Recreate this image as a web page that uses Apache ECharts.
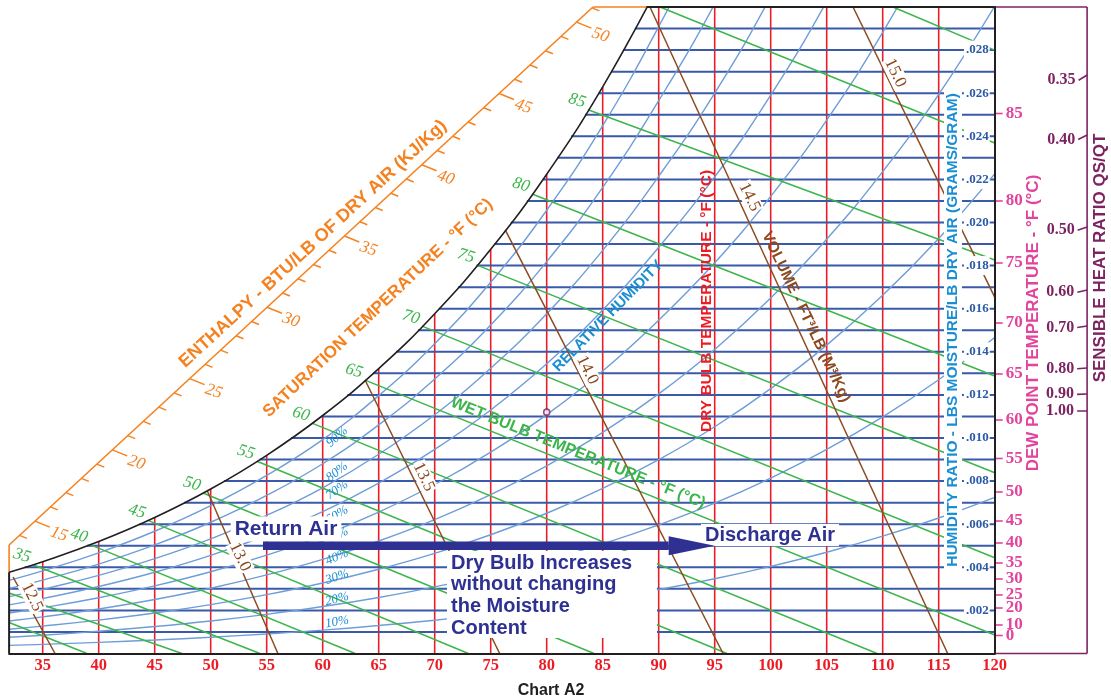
<!DOCTYPE html>
<html>
<head>
<meta charset="utf-8">
<title>Psychrometric Chart A2</title>
<script src="https://cdn.jsdelivr.net/npm/echarts@6.0.0/dist/echarts.min.js"></script>
<style>
html, body { margin: 0; padding: 0; background: #ffffff; }
#chart { width: 1111px; height: 700px; }
</style>
</head>
<body>
<div id="chart"></div>
<script>
// ---------------- chart values ----------------
// dry bulb (°F) stations used by the saturation and relative humidity curves
const dryBulbSteps = [32, 35, 40, 45, 50, 55, 60, 65, 70, 75, 80, 85, 90, 95, 100, 105, 110, 115, 120];
const dryBulbTicks = [35, 40, 45, 50, 55, 60, 65, 70, 75, 80, 85, 90, 95, 100, 105, 110, 115, 120];
const dryBulbLines = [35, 40, 45, 50, 55, 60, 65, 70, 75, 80, 85, 90, 95, 100, 105, 110, 115];

// humidity ratio (lb/lb) on each curve at the dry bulb stations
const satHumidity = [0.003775, 0.004261, 0.005195, 0.006309, 0.007631, 0.009197, 0.011044, 0.013219, 0.015768, 0.018755, 0.022239, 0.026297, 0.031022];
const rh90 = [0.003395, 0.003832, 0.004672, 0.005672, 0.006859, 0.008265, 0.009922, 0.011965, 0.014377, 0.017224, 0.020569, 0.024492, 0.029087, 0.034211];
const rh80 = [0.003016, 0.003404, 0.004149, 0.005037, 0.006090, 0.007336, 0.008804, 0.010607, 0.012736, 0.015242, 0.018183, 0.021627, 0.025653, 0.030147, 0.035383];
const rh70 = [0.002638, 0.002976, 0.003628, 0.004403, 0.005322, 0.006409, 0.007690, 0.009247, 0.011082, 0.013239, 0.015762, 0.018709, 0.022144, 0.026000, 0.030486, 0.035651];
const rh60 = [0.002259, 0.002549, 0.003107, 0.003770, 0.004556, 0.005486, 0.006580, 0.007907, 0.009469, 0.011302, 0.013445, 0.015943, 0.018851, 0.022114, 0.025905, 0.030259, 0.035278];
const rh50 = [0.001882, 0.002123, 0.002587, 0.003138, 0.003792, 0.004565, 0.005473, 0.006564, 0.007842, 0.009341, 0.011086, 0.013112, 0.015467, 0.018129, 0.021215, 0.024753, 0.028821, 0.033489];
const rh40 = [0.001505, 0.001697, 0.002068, 0.002508, 0.003030, 0.003647, 0.004371, 0.005221, 0.006213, 0.007369, 0.008709, 0.010258, 0.012048, 0.014111, 0.016497, 0.019226, 0.022358, 0.025941, 0.030036];
const rh30 = [0.001128, 0.001272, 0.001550, 0.001879, 0.002270, 0.002731, 0.003273, 0.003908, 0.004648, 0.005510, 0.006509, 0.007663, 0.008993, 0.010523, 0.012291, 0.014309, 0.016619, 0.019255, 0.022258];
const rh20 = [0.000751, 0.000848, 0.001032, 0.001252, 0.001511, 0.001818, 0.002178, 0.002600, 0.003091, 0.003663, 0.004324, 0.005087, 0.005966, 0.006976, 0.008140, 0.009467, 0.010982, 0.012705, 0.014664];
const rh10 = [0.000375, 0.000424, 0.000516, 0.000625, 0.000755, 0.000908, 0.001087, 0.001297, 0.001542, 0.001826, 0.002155, 0.002533, 0.002969, 0.003469, 0.004044, 0.004698, 0.005443, 0.006289, 0.007247];
const rhNames = ['90%', '80%', '70%', '60%', '50%', '40%', '30%', '20%', '10%'];

// constant humidity ratio lines and the dry bulb where each leaves the saturation curve
const humidityLines = [0.001, 0.002, 0.003, 0.004, 0.005, 0.006, 0.007, 0.008, 0.009, 0.010, 0.011, 0.012, 0.013, 0.014, 0.015, 0.016, 0.017, 0.018, 0.019, 0.020, 0.021, 0.022, 0.023, 0.024, 0.025, 0.026, 0.027, 0.028, 0.029];
const humidityLineFrom = [32, 32, 32, 33.39, 38.96, 43.62, 47.62, 51.18, 54.37, 57.18, 59.88, 62.20, 64.50, 66.54, 68.50, 70.39, 72.07, 73.74, 75.35, 76.79, 78.23, 79.66, 80.94, 82.18, 83.41, 84.64, 85.75, 86.81, 87.87];
const humidityTicks = [0.002, 0.004, 0.006, 0.008, 0.010, 0.012, 0.014, 0.016, 0.018, 0.020, 0.022, 0.024, 0.026, 0.028];

// wet bulb lines: [dry bulb, humidity ratio] at both ends
const wetBulbNames = ['25', '30', '35', '40', '45', '50', '55', '60', '65', '70', '75', '80', '85', '90', '95'];
const wetBulbFrom = [[32, 0.00144], [32, 0.00281], [34.13, 0.00412], [39.22, 0.00505], [44.40, 0.006175], [49.31, 0.007448], [54.13, 0.008924], [59.04, 0.010689], [63.78, 0.012687], [68.87, 0.01519], [73.78, 0.018024], [78.69, 0.021323], [83.69, 0.025229], [90.12, 0.030], [110.92, 0.030]];
const wetBulbTo = [[38.96, 0], [47.44, 0], [54.40, 0], [62.9, 0], [73.0, 0], [84.23, 0], [96.1, 0], [109.5, 0], [120, 0.00086], [120, 0.00444], [120, 0.00839], [120, 0.01288], [120, 0.01826], [120, 0.02369], [120, 0.02800]];
const wetBulbPrinted = ['35', '40', '45', '50', '55', '60', '65', '70', '75', '80', '85'];

// specific volume lines (ft³/lb)
const volumeNames = ['12.5', '13.0', '13.5', '14.0', '14.5', '15.0'];
const volumeFrom = [[32.35, 0.00355], [49.69, 0.00755], [63.78, 0.01269], [76.30, 0.01966], [89.22, 0.030], [107.35, 0.030]];
const volumeTo = [[36.1, 0], [56.0, 0], [75.8, 0], [95.75, 0], [115.8, 0], [120, 0.01654]];

// enthalpy scale (Btu/lb)
const enthalpyMajor = [15, 20, 25, 30, 35, 40, 45, 50];
const enthalpyFirst = 14;
const enthalpyLast = 51;

// dew point scale: label and the humidity ratio it is printed against
const dewPointLabels = ['0', '10', '20', '25', '30', '35', '40', '45', '50', '55', '60', '65', '70', '75', '80', '85'];
const dewPointAt = [0.000835, 0.001323, 0.002111, 0.002715, 0.003457, 0.0042, 0.005128, 0.006148, 0.007494, 0.009049, 0.010835, 0.012971, 0.015336, 0.018121, 0.020998, 0.025058];

// sensible heat ratio protractor
const shrLabels = ['0.35', '0.40', '0.50', '0.60', '0.70', '0.80', '0.90', '1.00'];
const shrAt = [0.026845, 0.024060, 0.019791, 0.016868, 0.015197, 0.013248, 0.012042, 0.011253];
const referencePoint = [80, 0.0112];

// heating process: constant moisture, dry bulb rising
const processHumidity = 0.005;
const processFrom = 54.67;
const processTo = 95.0;

// ---------------- layout ----------------
const C = {
  red: '#ed1c24', hline: '#3a59a9', rh: '#6e9dd8', green: '#3cb54b', brown: '#8b4a1f',
  orange: '#f58220', pink: '#e2449c', purple: '#7d2361', sky: '#1a8ed3', navy: '#2e3192',
  black: '#231f20', hrText: '#2b5aa7'
};
const SERIF = '"Liberation Serif", "DejaVu Serif", serif';
const SANS = '"Liberation Sans", Arial, sans-serif';
const TOP_W = 0.030;
const SHR_AXIS_T = 128.25;           // dry-bulb coordinate of the purple protractor line
const satTopT = 88.91;               // saturation curve meets the top edge
const enthalpyAnchor = { h0: 15, t0: 34.31, h1: 50, t1: 82.66 };
const enthalpyLine = { t0: 32, w0: 0.005035, t1: 84.13, w1: 0.030 };
const rhLabelT = 61.28;
const rhLabelW = [0.010046, 0.008422, 0.007587, 0.006427, 0.005452, 0.004478, 0.00355, 0.002529, 0.001462];
const rhLabelTilt = [42, 38, 35, 31, 27, 23, 19, 14, 10];
const volumeLabelW = [0.00262, 0.00448, 0.00819, 0.01315, 0.02118, 0.02694];
const volumeLabelShift = [8, 4, 11, 10, 12, 10];

// ---------------- helpers ----------------
function segmentSeries(rows, stroke, width, z) {
  return {
    type: 'custom', coordinateSystem: 'cartesian2d', silent: true, z: z, clip: false,
    data: rows, encode: { x: [0, 2], y: [1, 3] },
    renderItem: function (params, api) {
      const a = api.coord([api.value(0), api.value(1)]);
      const b = api.coord([api.value(2), api.value(3)]);
      return { type: 'line', shape: { x1: a[0], y1: a[1], x2: b[0], y2: b[1] },
        style: { stroke: stroke, lineWidth: width, fill: null } };
    }
  };
}
function curveSeries(values, color, width, z) {
  return {
    type: 'line', silent: true, z: z, clip: true, smooth: 0.45,
    showSymbol: false, symbol: 'none',
    data: values.map(function (w, i) { return [dryBulbSteps[i], w]; }),
    lineStyle: { color: color, width: width }
  };
}
function textSeries(rows, makeText, z) {
  return {
    type: 'custom', coordinateSystem: 'cartesian2d', silent: true, z: z, clip: false,
    data: rows, encode: { x: 0, y: 1 },
    renderItem: function (params, api) {
      const p = api.coord([api.value(0), api.value(1)]);
      return makeText(p, params.dataIndex);
    }
  };
}
function lerpLine(from, to, w) {
  return from[0] + (w - from[1]) * (to[0] - from[0]) / (to[1] - from[1]);
}

// ---------------- rows built from the values ----------------
const dryBulbRows = dryBulbLines.map(function (t) {
  const i = dryBulbSteps.indexOf(t);
  const top = (i >= 0 && i < satHumidity.length) ? Math.min(satHumidity[i], TOP_W) : TOP_W;
  return [t, 0, t, top];
});
const humidityRows = humidityLines.map(function (w, i) { return [humidityLineFrom[i], w, 120, w]; });
const wetBulbRows = wetBulbFrom.map(function (p, i) { return [p[0], p[1], wetBulbTo[i][0], wetBulbTo[i][1]]; });
const volumeRows = volumeFrom.map(function (p, i) { return [p[0], p[1], volumeTo[i][0], volumeTo[i][1]]; });
const volumeLabelRows = volumeLabelW.map(function (w, i) { return [lerpLine(volumeFrom[i], volumeTo[i], w), w]; });
const wetBulbLabelRows = wetBulbFrom.slice(2, 13);
const rhLabelRows = rhLabelW.map(function (w) { return [rhLabelT, w]; });
const dewPointRows = dewPointAt.map(function (w) { return [120, w]; });

const enthalpyRows = [];
for (let h = enthalpyFirst; h <= enthalpyLast; h++) {
  const t = enthalpyAnchor.t0 + (h - enthalpyAnchor.h0) * (enthalpyAnchor.t1 - enthalpyAnchor.t0) / (enthalpyAnchor.h1 - enthalpyAnchor.h0);
  const w = enthalpyLine.w0 + (t - enthalpyLine.t0) * (enthalpyLine.w1 - enthalpyLine.w0) / (enthalpyLine.t1 - enthalpyLine.t0);
  enthalpyRows.push([t, w, h, enthalpyMajor.indexOf(h) >= 0 ? 1 : 0]);
}
const shrRows = shrAt.map(function (w) { return [SHR_AXIS_T, w]; });

const blackFrame = [[32, 0, 32, satHumidity[0]], [satTopT, TOP_W, 120, TOP_W]];
const orangeFrame = [
  [32, satHumidity[0], 32, enthalpyLine.w0],
  [enthalpyLine.t0, enthalpyLine.w0, enthalpyLine.t1, enthalpyLine.w1],
  [enthalpyLine.t1, TOP_W, satTopT, TOP_W]
];
const purpleFrame = [[120, TOP_W, SHR_AXIS_T, TOP_W], [SHR_AXIS_T, 0, SHR_AXIS_T, TOP_W], [120, 0, SHR_AXIS_T, 0]];

// ---------------- series ----------------
const series = [];
series.push(segmentSeries(dryBulbRows, C.red, 1.6, 2));
series.push(segmentSeries(humidityRows, C.hline, 2, 3));
[rh90, rh80, rh70, rh60, rh50, rh40, rh30, rh20, rh10].forEach(function (arr) {
  series.push(curveSeries(arr, C.rh, 1.4, 4));
});
series.push(segmentSeries(wetBulbRows, C.green, 1.5, 5));
series.push(segmentSeries(volumeRows, C.brown, 1.5, 6));
series.push(curveSeries(satHumidity, C.black, 1.6, 7));
series.push(segmentSeries(blackFrame, C.black, 2, 7));
series.push(segmentSeries(orangeFrame, C.orange, 1.6, 7));
series.push(segmentSeries(purpleFrame, C.purple, 1.6, 7));

// enthalpy ticks and numbers
series.push({
  type: 'custom', coordinateSystem: 'cartesian2d', silent: true, z: 8, clip: false,
  data: enthalpyRows, encode: { x: 0, y: 1 },
  renderItem: function (params, api) {
    const p = api.coord([api.value(0), api.value(1)]);
    const major = api.value(3) === 1;
    const len = major ? 16 : 8;
    const ang = 22 * Math.PI / 180;
    const kids = [{ type: 'line', shape: { x1: p[0], y1: p[1], x2: p[0] + len * Math.cos(ang), y2: p[1] + len * Math.sin(ang) },
      style: { stroke: C.orange, lineWidth: 1.5 } }];
    if (major) {
      kids.push({ type: 'text', x: p[0] + 24, y: p[1] + 13, rotation: -0.33,
        style: { text: String(api.value(2)), font: 'italic 17px ' + SERIF, fill: C.orange, align: 'center', verticalAlign: 'middle' } });
    }
    return { type: 'group', children: kids };
  }
});

// wet bulb numbers at the saturation curve
series.push(textSeries(wetBulbLabelRows, function (p, i) {
  return { type: 'text', x: p[0] - 11, y: p[1] - 9, rotation: -0.3,
    style: { text: wetBulbPrinted[i], font: 'italic 17px ' + SERIF, fill: C.green, align: 'center', verticalAlign: 'middle' } };
}, 9));

// relative humidity percentages
series.push(textSeries(rhLabelRows, function (p, i) {
  return { type: 'text', x: p[0], y: p[1], rotation: rhLabelTilt[i] * Math.PI / 180,
    style: { text: rhNames[i], font: 'italic 13px ' + SERIF, fill: C.sky, align: 'center', verticalAlign: 'middle' } };
}, 9));

// specific volume numbers beside their lines
series.push(textSeries(volumeLabelRows, function (p, i) {
  return { type: 'text', x: p[0] + volumeLabelShift[i], y: p[1], rotation: -64 * Math.PI / 180,
    style: { text: volumeNames[i], font: '17px ' + SERIF, fill: C.brown, align: 'center', verticalAlign: 'middle',
      backgroundColor: '#ffffff', padding: [0, 1] } };
}, 9));

// dew point scale outside the right edge
series.push(textSeries(dewPointRows, function (p, i) {
  return { type: 'group', children: [
    { type: 'line', shape: { x1: p[0], y1: p[1], x2: p[0] + 8, y2: p[1] }, style: { stroke: C.pink, lineWidth: 1.6 } },
    { type: 'text', x: p[0] + 11, y: p[1], style: { text: dewPointLabels[i], font: 'bold 17px ' + SERIF,
      fill: C.pink, align: 'left', verticalAlign: 'middle' } }
  ] };
}, 9));

// sensible heat ratio ticks aimed at the reference point
series.push({
  type: 'custom', coordinateSystem: 'cartesian2d', silent: true, z: 9, clip: false,
  data: shrRows, encode: { x: 0, y: 1 },
  renderItem: function (params, api) {
    const p = api.coord([api.value(0), api.value(1)]);
    const r = api.coord(referencePoint);
    let dx = r[0] - p[0], dy = r[1] - p[1];
    const d = Math.sqrt(dx * dx + dy * dy); dx /= d; dy /= d;
    const e = [p[0] + dx * 10, p[1] + dy * 10];
    return { type: 'group', children: [
      { type: 'line', shape: { x1: p[0], y1: p[1], x2: e[0], y2: e[1] }, style: { stroke: C.purple, lineWidth: 1.6 } },
      { type: 'text', x: e[0] - 3, y: e[1], style: { text: shrLabels[params.dataIndex], font: 'bold 16px ' + SERIF,
        fill: C.purple, align: 'right', verticalAlign: 'middle' } }
    ] };
  }
});

// reference point
series.push({
  type: 'scatter', silent: true, z: 10, data: [referencePoint], symbol: 'circle', symbolSize: 6,
  itemStyle: { color: '#ffffff', borderColor: C.purple, borderWidth: 1.6 }
});

// heating process arrow
series.push({
  type: 'custom', coordinateSystem: 'cartesian2d', silent: true, z: 60, clip: false,
  data: [[processFrom, processHumidity, processTo, processHumidity]], encode: { x: [0, 2], y: [1, 3] },
  renderItem: function (params, api) {
    const a = api.coord([api.value(0), api.value(1)]);
    const b = api.coord([api.value(2), api.value(3)]);
    const head = 46, half = 9.5, bar = 8.5;
    return { type: 'group', children: [
      { type: 'rect', shape: { x: a[0], y: a[1] - bar / 2, width: b[0] - head - a[0], height: bar }, style: { fill: C.navy } },
      { type: 'polygon', shape: { points: [[b[0] - head, a[1] - half], [b[0], a[1]], [b[0] - head, a[1] + half]] }, style: { fill: C.navy } }
    ] };
  }
});

// ---------------- titles and notes ----------------
function label(text, x, y, deg, font, fill, extra) {
  const style = { text: text, font: font, fill: fill, align: 'center', verticalAlign: 'middle' };
  if (extra) Object.keys(extra).forEach(function (k) { style[k] = extra[k]; });
  return { type: 'text', x: x, y: y, rotation: deg * Math.PI / 180, z: 50, silent: true, style: style };
}
const notes = [
  label('ENTHALPY - BTU/LB OF DRY AIR (KJ/Kg)', 313, 244, 42.6, 'bold 18px ' + SANS, C.orange),
  label('SATURATION TEMPERATURE - °F (°C)', 378, 308, 43.5, 'bold 17px ' + SANS, C.orange),
  label('RELATIVE HUMIDITY', 608, 316, 45.5, 'bold 15px ' + SANS, C.sky),
  label('WET BULB TEMPERATURE - °F (°C)', 578, 453, -22, 'bold 16px ' + SANS, C.green),
  label('DRY BULB TEMPERATURE - °F (°C)', 706.5, 301, 90, 'bold 15.5px ' + SANS, C.red),
  label('VOLUME - FT³/LB (M³/Kg)', 806, 317, -64.5, 'bold 15.5px ' + SANS, C.brown),
  label('HUMIDITY RATIO - LBS MOISTURE/LB DRY AIR (GRAMS/GRAM)', 953, 330, 90, 'bold 15.5px ' + SANS, C.sky,
    { backgroundColor: '#ffffff', padding: [1, 3] }),
  label('DEW POINT TEMPERATURE - °F (°C)', 1033, 323, 90, 'bold 17px ' + SANS, C.pink),
  label('SENSIBLE HEAT RATIO QS/QT', 1100.5, 258, 90, 'bold 17px ' + SANS, C.purple),
  label('Chart A2', 551, 691, 0, 'bold 16px ' + SANS, C.black),
  label('Return Air', 286, 529, 0, 'bold 21px ' + SANS, C.navy, { backgroundColor: '#ffffff', padding: [2, 4] }),
  label('Discharge Air', 770, 535, 0, 'bold 20px ' + SANS, C.navy, { backgroundColor: '#ffffff', padding: [1, 4] }),
  { type: 'rect', z: 49, silent: true, shape: { x: 447, y: 551, width: 210, height: 87 }, style: { fill: '#ffffff' } }
];
['Dry Bulb Increases', 'without changing', 'the Moisture', 'Content'].forEach(function (line, i) {
  notes.push({ type: 'text', x: 451, y: 563 + i * 21.8, z: 50, silent: true,
    style: { text: line, font: 'bold 20px ' + SANS, fill: C.navy, align: 'left', verticalAlign: 'middle' } });
});

// ---------------- chart ----------------
const chart = echarts.init(document.getElementById('chart'), null, { renderer: 'canvas' });
chart.setOption({
  animation: false,
  backgroundColor: '#ffffff',
  grid: { left: 9.1, right: 116.3, top: 7, bottom: 46.5, outerBoundsMode: 'none' },
  xAxis: {
    type: 'value', min: 32, max: 120, z: 45,
    axisLine: { show: true, onZero: false, lineStyle: { color: C.black, width: 2 } },
    axisTick: { show: false }, splitLine: { show: false },
    axisLabel: { customValues: dryBulbTicks, hideOverlap: false, color: C.red, fontFamily: SERIF, fontWeight: 'bold', fontSize: 16.5, margin: 4 }
  },
  yAxis: {
    type: 'value', min: 0, max: TOP_W, position: 'right', z: 45,
    axisLine: { show: true, onZero: false, lineStyle: { color: C.black, width: 2 } },
    axisTick: { show: false }, splitLine: { show: false },
    axisLabel: {
      inside: true, customValues: humidityTicks, margin: 5, hideOverlap: false,
      formatter: function (v) { return '.' + String(Math.round(v * 1000)).padStart(3, '0'); },
      color: C.hrText, fontFamily: SERIF, fontWeight: 'bold', fontSize: 13,
      backgroundColor: '#ffffff', padding: [0, 1, 6, 2], verticalAlign: 'middle'
    }
  },
  series: series,
  graphic: { elements: notes }
});
</script>
</body>
</html>
